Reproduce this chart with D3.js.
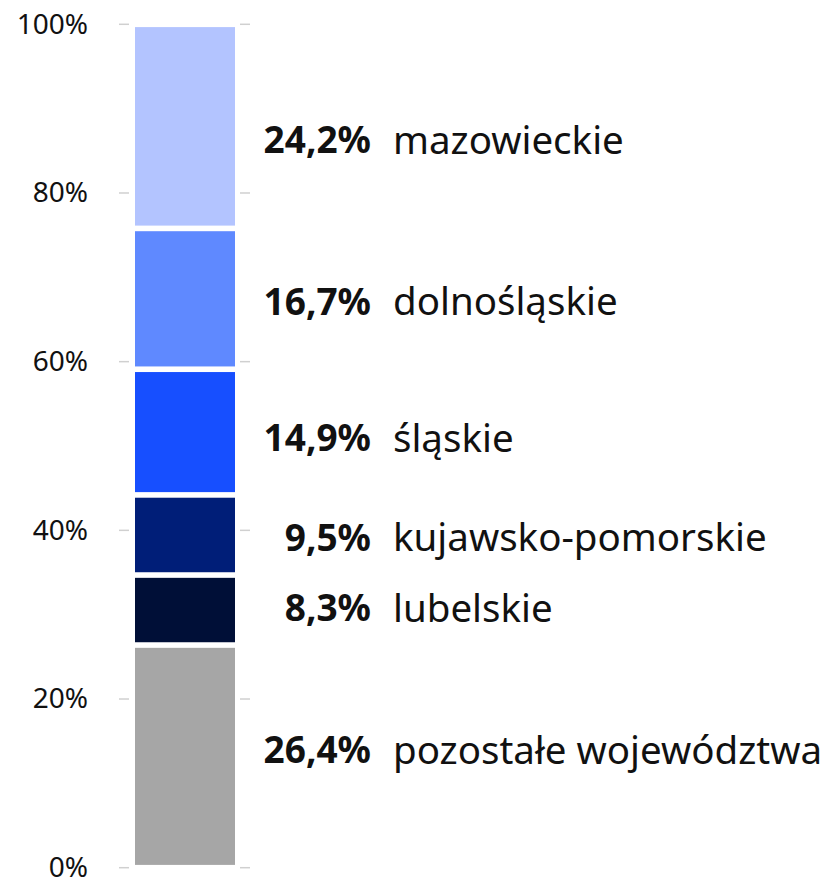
<!DOCTYPE html>
<html><head><meta charset="utf-8">
<script src="https://cdn.jsdelivr.net/npm/d3@7"></script>
<style>body{margin:0;background:#fff}svg{display:block}text{font-family:"Noto Sans",sans-serif}</style>
</head><body><svg id="c" width="828" height="879"></svg>
<script>
const regions = ["pozostałe województwa","lubelskie","kujawsko-pomorskie","śląskie","dolnośląskie","mazowieckie"];
const shares = [26.4, 8.3, 9.5, 14.9, 16.7, 24.2];
const colors = ["#a6a6a6","#000f37","#001e78","#174fff","#5f89ff","#b3c4ff"];
const tickValues = [0,20,40,60,80,100];
const labelNudge = [-6, -2, 3, 6, 3, 14];

const svg = d3.select("#c");
const y = d3.scaleLinear().domain([0,100]).range([867.7, 24.3]);
const x0 = 135, x1 = 235;

// ticks
const tk = svg.append("g");
tk.selectAll("line.l").data(tickValues).join("line")
  .attr("x1",119).attr("x2",129).attr("y1",d=>y(d)).attr("y2",d=>y(d))
  .attr("stroke","#d0d0d0").attr("stroke-width",1.5);
tk.selectAll("line.r").data(tickValues).join("line")
  .attr("x1",240).attr("x2",250).attr("y1",d=>y(d)).attr("y2",d=>y(d))
  .attr("stroke","#d0d0d0").attr("stroke-width",1.5);
tk.selectAll("text").data(tickValues).join("text")
  .attr("x",88).attr("y",d=>y(d)).attr("dy","0.33em").attr("text-anchor","end")
  .attr("font-size",28).attr("fill","#111").text(d=>d+"%");

// stacked
let cum = 0;
const segs = shares.map((v,i)=>{const s={i,lo:cum,hi:cum+v,v}; cum+=v; return s;});
const gap = 2.8;
svg.append("g").selectAll("rect").data(segs).join("rect")
  .attr("x",x0).attr("width",x1-x0)
  .attr("y",d=>y(d.hi)+gap)
  .attr("height",d=>y(d.lo)-y(d.hi)-2*gap)
  .attr("fill",d=>colors[d.i]);

const fmt = v => v.toFixed(1).replace(".",",")+"%";
const lg = svg.append("g");
segs.forEach(d=>{
  const cy = y((d.lo+d.hi)/2) + labelNudge[d.i];
  lg.append("text").attr("x",371).attr("y",cy).attr("dy","0.35em")
    .attr("text-anchor","end").attr("font-weight","bold").attr("font-size",37)
    .attr("fill","#111").text(fmt(d.v));
  lg.append("text").attr("x",393).attr("y",cy).attr("dy","0.35em")
    .attr("font-size",38.5).attr("fill","#111").text(regions[d.i]);
});
</script></body></html>
